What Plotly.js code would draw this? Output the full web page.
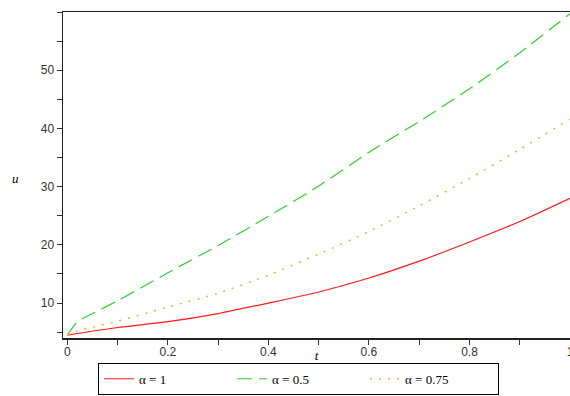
<!DOCTYPE html>
<html>
<head>
<meta charset="utf-8">
<script src="https://cdn.plot.ly/plotly-3.0.1.min.js"></script>
<style>html,body{margin:0;padding:0;background:#fff;}#chart{width:570px;height:396px;}</style>
</head>
<body>
<div id="chart"></div>
<script>
const tRed = [0, 0.1, 0.2, 0.3, 0.4, 0.5, 0.6, 0.7, 0.8, 0.9, 1];
const uRed = [4.5, 5.8, 6.8, 8.2, 10.0, 11.9, 14.3, 17.2, 20.5, 24.0, 28.0];
const tGreen = [0, 0.02, 0.05, 0.1, 0.2, 0.3, 0.4, 0.5, 0.6, 0.7, 0.8, 0.9, 1];
const uGreen = [4.5, 6.8, 8.2, 10.4, 15.2, 19.9, 24.9, 30.1, 35.9, 41.2, 46.8, 53.0, 59.7];
const tOrange = [0, 0.02, 0.05, 0.1, 0.2, 0.3, 0.4, 0.5, 0.6, 0.7, 0.8, 0.9, 1];
const uOrange = [4.5, 5.2, 5.85, 6.9, 9.3, 11.7, 14.8, 18.4, 22.3, 26.7, 31.4, 36.4, 41.6];
const seriesNames = ["α = 1", "α = 0.5", "α = 0.75"];

const traces = [
  {x: tRed, y: uRed, name: seriesNames[0], mode: "lines",
   line: {color: "#ff1a1a", width: 1.2, shape: "spline", smoothing: 0.6}},
  {x: tGreen, y: uGreen, name: seriesNames[1], mode: "lines",
   line: {color: "#33cc33", width: 1.2, dash: "15px,7px", shape: "spline", smoothing: 0.6}},
  {x: tOrange, y: uOrange, name: seriesNames[2], mode: "lines",
   line: {color: "#e6b040", width: 1.5, dash: "2px,7px", shape: "spline", smoothing: 0.6}}
];

const tickFont = {family: "Liberation Sans, Arial, sans-serif", size: 12, color: "#333"};
const layout = {
  width: 570, height: 396,
  margin: {l: 63, r: 0, t: 12, b: 58, autoexpand: false},
  paper_bgcolor: "#fff", plot_bgcolor: "#fff",
  showlegend: true,
  legend: {orientation: "h", xref: "container", yref: "container",
           x: 0.172, xanchor: "left", y: 0.003, yanchor: "bottom",
           bordercolor: "#000", borderwidth: 1, bgcolor: "#fff",
           font: {family: "Liberation Serif, Times New Roman, serif", size: 13, color: "#000"},
           entrywidth: 88, entrywidthmode: "pixels", tracegroupgap: 0},
  xaxis: {range: [-0.0087, 1.0], tickmode: "array", tickvals: [0, 0.2, 0.4, 0.6, 0.8, 1],
          ticktext: ["0", "0.2", "0.4", "0.6", "0.8", "1"], automargin: false,
          ticklabeloverflow: "allow", ticklabelstandoff: -3,
          ticks: "outside", ticklen: 5, tickcolor: "#333", tickwidth: 1,
          minor: {dtick: 0.1, tick0: 0, ticks: "outside", ticklen: 5, tickcolor: "#333"},
          showgrid: false, zeroline: false, showline: true, linecolor: "#222", linewidth: 1.5,
          mirror: true, tickfont: tickFont,
          title: {text: "<i>t</i>", font: {family: "Liberation Serif, serif", size: 13, color: "#000"}, standoff: 3}},
  yaxis: {range: [4.0, 60.0], tickmode: "array", tickvals: [10, 20, 30, 40, 50], automargin: false,
          ticks: "outside", ticklen: 5, tickcolor: "#333", tickwidth: 1,
          minor: {dtick: 5, tick0: 0, ticks: "outside", ticklen: 5, tickcolor: "#333"},
          showgrid: false, zeroline: false, showline: true, linecolor: "#222", linewidth: 1.5,
          tickfont: tickFont},
  annotations: [{text: "<i>u</i>", xref: "paper", yref: "paper", x: -0.094, y: 0.49,
                 xanchor: "center", yanchor: "middle", showarrow: false,
                 font: {family: "Liberation Serif, serif", size: 13, color: "#000"}}]
};
Plotly.newPlot("chart", traces, layout, {displayModeBar: false, staticPlot: true});
</script>
</body>
</html>
